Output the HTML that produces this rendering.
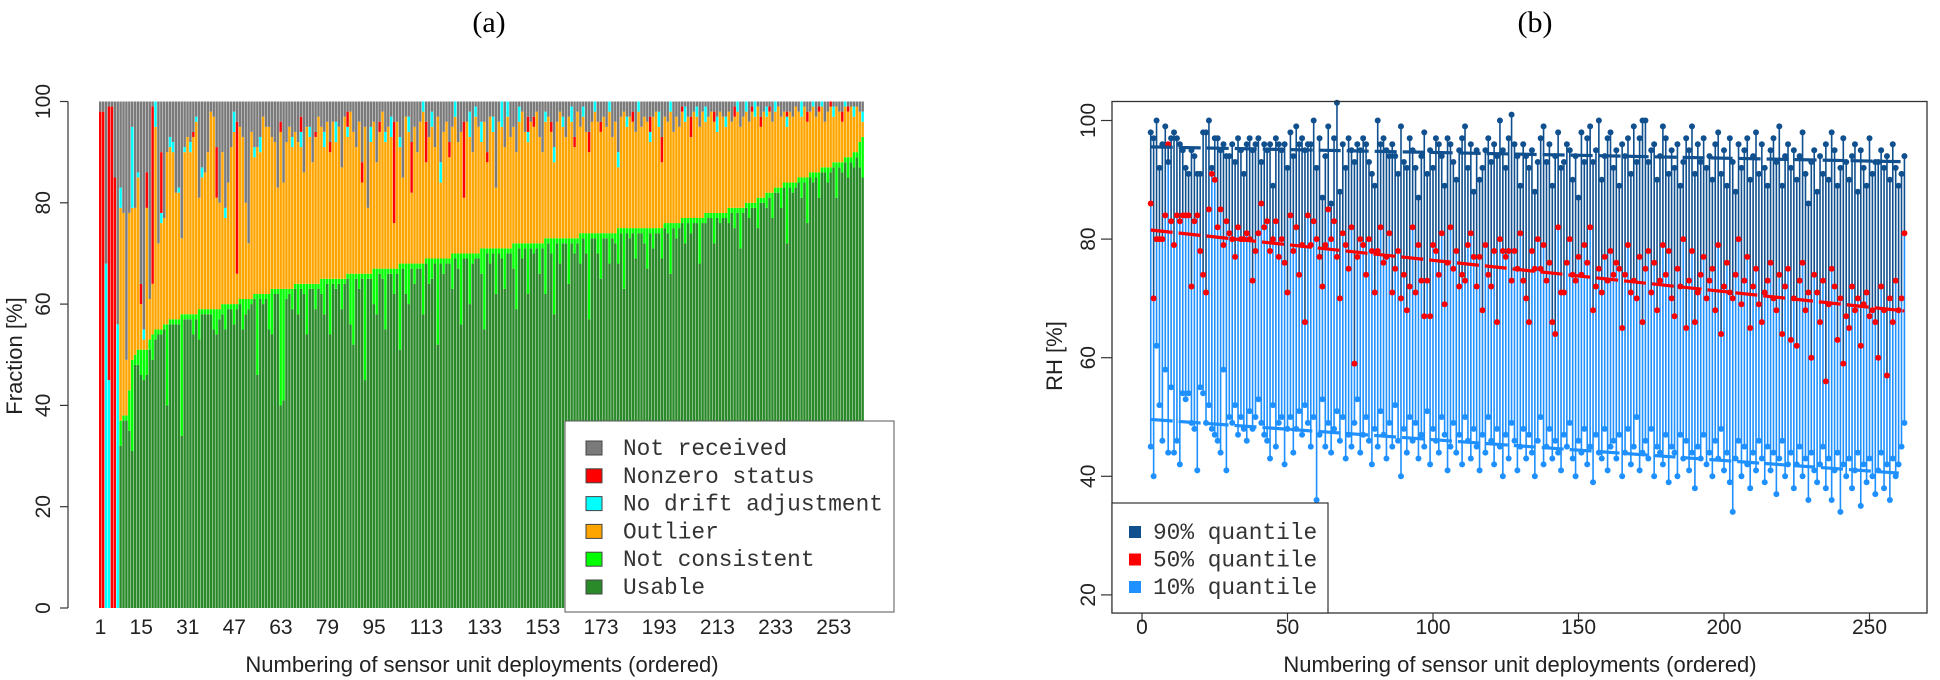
<!DOCTYPE html>
<html><head><meta charset="utf-8"><style>
html,body{margin:0;padding:0;background:#fff;}
svg{display:block;font-family:"Liberation Sans",sans-serif;}
.mono{font-family:"Liberation Mono",monospace;}
</style></head><body>
<svg id="chart" width="1940" height="680" viewBox="0 0 1940 680" xmlns="http://www.w3.org/2000/svg">
<g id="gA"></g>
<g id="gB"></g>
</svg>
<script>
// ---------- Panel (a) data: percent per deployment ----------
const barTicks=[1,15,31,47,63,79,95,113,133,153,173,193,213,233,253];
const fracTicks=[0,20,40,60,80,100];
const consTop=[0,0,0,0,0,0,0,
37,38,38,43,49,50,51,51,51,51,53,54,55,
55,55,56,56,57,57,57,57,58,58,
58,58,58,58,59,59,59,59,59,59,
59,59,60,60,60,60,60,60,61,61,
61,61,61,62,62,62,62,62,62,63,
63,63,63,63,63,63,63,64,64,64,
64,64,64,64,64,64,65,65,65,65,
65,65,65,65,65,66,66,66,66,66,
66,66,66,66,67,67,67,67,67,67,
67,67,67,68,68,68,68,68,68,68,
68,68,69,69,69,69,69,69,69,69,
69,70,70,70,70,70,70,70,70,70,
70,71,71,71,71,71,71,71,71,71,
71,71,72,72,72,72,72,72,72,72,
72,72,72,73,73,73,73,73,73,73,
73,73,73,73,73,74,74,74,74,74,
74,74,74,74,74,74,74,74,75,75,
75,75,75,75,75,75,75,75,75,75,
75,75,75,75,76,76,76,76,76,76,
77,77,77,77,77,77,77,77,78,78,
78,78,78,78,78,78,79,79,79,79,
79,79,80,80,80,80,81,81,81,82,
82,82,83,83,83,84,84,84,84,84,
85,85,85,85,86,86,86,86,87,87,
87,87,88,88,88,88,89,89,89,90,
90,92,93];
const notConsistent=[0,0,0,0,0,0,0,
5,1,1,8,18,2,3,5,6,5,2,5,2,
1,1,1,16,1,1,1,1,24,1,
1,1,4,1,6,1,1,1,1,4,
5,2,2,5,1,1,4,1,1,6,
3,2,1,1,16,1,2,1,7,9,
1,1,23,22,2,1,4,1,6,1,
2,10,1,1,5,1,3,7,1,11,
1,2,1,6,1,1,10,14,1,3,
1,21,1,1,7,9,1,2,12,1,
1,5,1,17,1,6,8,1,4,1,
1,10,1,5,4,1,17,1,3,1,
1,7,1,3,14,1,1,10,2,1,
1,5,16,1,3,1,9,1,2,8,
1,1,5,13,1,3,1,10,1,2,
1,6,1,11,1,3,15,1,5,1,
1,9,1,3,1,6,1,4,17,1,
1,4,9,1,1,6,1,2,7,1,
12,1,2,1,6,1,1,3,8,1,
4,1,1,6,1,2,10,1,3,1,
1,5,1,3,1,1,9,1,2,1,
1,6,1,2,1,1,3,1,4,1,
8,1,1,3,1,1,6,1,1,3,
1,5,1,1,4,1,12,1,2,1,
1,4,1,9,1,2,1,5,1,1,
3,1,1,7,1,2,1,4,1,3,
1,5,8];
const outlierTop=[0,0,0,0,0,0,0,
79,78,49,78,79,79,85,60,53,79,61,64,95,
72,76,77,90,91,90,82,82,73,90,
93,90,93,96,81,85,86,90,98,97,
81,80,90,77,84,91,94,66,95,93,
80,72,94,89,91,90,97,95,95,93,
92,83,94,84,92,95,91,94,92,91,
86,95,93,88,93,97,95,91,96,90,
96,92,95,87,97,93,98,94,91,96,
84,95,79,92,96,88,94,98,92,95,
93,76,96,91,85,97,94,82,95,90,
96,98,88,93,95,91,97,84,94,96,
89,95,97,92,94,81,96,93,90,97,
95,92,96,88,97,94,83,96,95,91,
97,93,95,90,96,98,94,92,96,95,
98,93,90,96,97,94,88,96,98,95,
93,97,96,91,98,95,97,94,90,96,
98,96,94,97,95,98,93,96,87,97,
98,95,97,96,94,98,95,97,96,92,
97,98,95,88,97,96,98,94,97,95,
98,96,97,93,98,97,95,98,96,97,
98,96,94,98,97,95,98,96,97,98,
95,97,98,96,98,97,99,95,98,97,
98,96,98,99,97,98,95,98,97,99,
98,97,99,96,98,99,97,98,99,96,
98,99,97,99,98,96,99,98,99,97,
99,98,96];
const noDrift=[0,0,68,45,0,0,56,4,0,0,
0,16,0,1,0,2,0,0,0,19,
0,2,0,0,2,2,0,1,0,1,
0,2,0,1,0,2,0,0,0,0,
0,0,0,2,0,0,4,0,0,0,
0,0,0,2,0,3,0,0,0,0,
0,0,0,0,0,0,2,0,0,3,
0,0,2,0,0,0,0,3,0,0,
0,4,0,0,0,2,0,0,0,0,
0,0,0,3,0,0,0,0,2,0,
4,0,0,2,0,0,3,0,0,0,
0,2,0,0,3,0,0,4,0,0,
0,0,3,0,0,0,0,5,0,2,
0,4,0,0,0,3,0,0,5,0,
4,0,0,0,3,0,0,2,0,0,
0,0,0,2,0,0,3,0,0,2,
0,0,3,0,0,0,2,0,0,0,
3,0,0,0,0,2,0,0,3,0,
0,2,0,0,0,3,0,0,0,2,
0,0,3,0,0,0,2,0,0,0,
0,3,0,0,0,2,0,0,3,0,
0,0,3,0,0,2,0,0,0,3,
0,0,2,0,0,3,0,0,0,2,
0,0,3,0,0,0,2,0,0,0,
0,3,0,0,0,2,0,0,3,0,
0,0,2,0,0,0,3,0,0,2,
0,0,2];
const nonzeroStatus=[98,98,0,54,99,85,0,0,0,0,
0,0,0,0,4,0,7,0,35,0,
0,12,0,0,0,0,0,0,0,0,
0,0,1,0,0,0,0,0,0,0,
10,0,0,0,0,0,0,30,0,0,
0,0,0,0,0,0,0,0,0,0,
0,0,2,0,0,0,0,0,0,3,
0,0,0,0,1,0,0,0,0,2,
0,0,0,0,0,3,0,0,0,0,
4,0,0,0,0,0,2,0,0,0,
0,20,0,0,0,0,0,10,0,0,
0,0,8,0,0,0,0,0,0,0,
3,0,0,0,0,15,0,0,0,0,
0,0,0,2,0,0,0,0,0,0,
0,0,0,0,0,0,0,3,0,2,
0,0,0,0,0,2,0,0,0,0,
0,0,0,2,0,0,0,0,4,0,
0,0,2,0,0,0,0,0,0,0,
0,0,0,2,0,0,0,0,0,3,
0,0,0,5,0,0,0,0,0,0,
1,0,0,4,0,0,0,0,0,0,
0,2,0,0,0,0,0,0,2,0,
0,0,0,0,1,0,0,2,0,0,
1,0,0,0,0,0,1,0,0,0,
0,1,0,2,0,0,0,1,0,0,
0,1,0,0,0,2,0,1,0,0,
0,0,0];
const legendA=["Not received","Nonzero status","No drift adjustment","Outlier","Not consistent","Usable"];

// ---------- Panel (b) data: RH quantiles per deployment (x = 3..262) ----------
const rhTicks=[20,40,60,80,100];
const depTicks=[0,50,100,150,200,250];
const q90=[98,97,100,92,96,99,93,97,98,97,
96,95,92,91,95,94,91,91,98,98,
100,92,97,97,95,96,94,94,96,93,
97,95,91,96,97,95,96,97,93,96,
95,96,89,97,96,95,96,92,98,94,
99,96,97,95,96,96,100,92,97,87,
94,99,86,97,103,88,96,92,97,95,
93,96,95,97,96,93,91,89,100,96,
97,95,94,96,94,91,99,93,92,97,
95,92,87,94,98,91,95,92,97,96,
94,89,97,96,93,90,95,97,99,92,
96,88,95,90,92,95,97,93,96,94,
100,95,92,97,101,96,94,89,96,94,
92,95,88,93,97,99,93,96,89,94,
98,92,93,96,95,90,94,87,98,93,
97,99,93,95,100,90,94,97,98,92,
95,89,96,94,97,91,99,93,97,100,
100,93,95,96,90,94,99,97,91,95,
92,96,89,93,97,95,99,91,96,93,
97,92,94,90,96,98,91,95,89,97,
93,88,96,92,95,97,90,94,98,91,
96,92,89,95,97,93,99,89,94,96,
92,95,90,94,98,91,86,93,95,88,
94,91,96,90,98,95,89,92,97,93,
90,94,96,88,95,92,89,97,91,93,
93,95,92,94,90,96,92,89,91,94];
const q50=[86,70,80,80,80,84,96,83,79,84,
83,84,84,84,72,83,84,78,74,71,
85,91,90,82,85,79,83,81,80,77,
82,80,80,81,80,73,78,81,86,82,
83,78,80,83,77,80,76,71,84,78,
82,74,79,66,84,79,83,80,77,72,
79,85,80,83,77,70,81,79,75,82,
59,77,80,79,74,80,78,71,78,82,
76,77,81,71,75,78,70,74,68,72,
82,71,79,73,67,73,67,79,78,74,
81,69,76,82,75,78,72,74,73,79,
81,77,72,77,68,79,74,72,78,66,
80,78,77,78,73,78,75,81,73,70,
66,78,75,80,75,79,73,76,66,64,
82,71,71,76,80,74,73,77,74,79,
76,82,68,72,75,71,77,73,78,74,
76,75,65,74,79,71,73,70,77,66,
75,78,71,76,68,73,79,74,78,70,
67,75,72,80,65,73,78,66,71,74,
77,70,73,75,68,79,64,72,76,71,
70,74,80,69,73,77,65,72,75,69,
66,71,73,76,70,68,74,64,72,75,
63,70,62,73,76,68,71,60,74,71,
66,73,56,69,75,72,63,70,59,67,
65,72,68,70,62,69,71,67,68,66,
60,72,68,57,70,66,73,68,70,81];
const q10=[45,40,62,52,46,58,44,55,44,46,
42,54,53,54,49,48,41,55,54,49,
52,48,47,46,44,58,41,50,49,52,
47,50,48,46,51,48,50,53,49,47,
46,43,52,45,49,50,42,48,50,44,
48,51,47,52,49,45,50,36,47,53,
45,49,44,48,51,46,50,43,47,45,
49,53,44,47,50,46,42,48,45,51,
47,43,49,45,52,46,40,48,44,50,
46,49,43,47,45,51,42,48,46,44,
50,47,41,45,49,44,47,42,50,46,
43,48,45,41,47,44,50,46,42,48,
45,40,47,43,49,46,41,45,48,43,
47,44,40,46,50,42,45,48,43,46,
44,41,47,45,49,43,40,46,44,48,
42,45,39,47,44,43,48,41,45,46,
43,47,40,44,48,42,45,50,41,44,
46,43,48,40,45,44,42,47,39,45,
44,40,47,43,46,41,44,38,45,43,
47,42,44,40,46,43,48,41,44,39,
34,43,46,40,45,42,38,44,41,46,
43,39,45,41,44,37,43,46,40,42,
44,38,42,45,40,43,36,44,41,39,
42,45,38,43,36,41,44,34,42,40,
43,38,41,44,35,42,39,43,40,37,
41,44,38,42,36,43,40,42,45,49];
const firstDeployment=3;
const legendB=["90% quantile","50% quantile","10% quantile"];

const NS="http://www.w3.org/2000/svg";
function mk(parent,tag,attrs,text){const e=document.createElementNS(NS,tag);for(const k in attrs)e.setAttribute(k,attrs[k]);if(text!==undefined)e.textContent=text;parent.appendChild(e);return e;}

// ---------- Panel (a) ----------
const gA=document.getElementById('gA');
const barX0=99, barStep=2.91;
const yA=v=>608-v*5.065;
const xA=i=>barX0+i*barStep;
const tA=mk(gA,'text',{x:489,y:32,'text-anchor':'middle','font-size':30,'font-family':'Liberation Serif, serif'},'(a)');


const bars=mk(gA,'g',{});


const cols={usable:'#2a8a2a',notcons:'#00ff00',outlier:'#ffa500',drift:'#00ffff',nonzero:'#ff0000',notrec:'#7a7a7a'};
for(let i=0;i<consTop.length;i++){
  const c=consTop[i]||0, nc=notConsistent[i]||0, o=Math.max(outlierTop[i]||0,c);
  const d=noDrift[i]||0, nz=nonzeroStatus[i]||0;
  const segs=[['usable',0,c-nc],['notcons',c-nc,c],['outlier',c,o],['drift',o,Math.min(100,o+d)],['nonzero',Math.min(100,o+d),Math.min(100,o+d+nz)],['notrec',Math.min(100,o+d+nz),100]];
  const bg=mk(bars,'g',{});
  
  
  for(const s of segs){ if(s[2]-s[1]<=0) continue;
    const r=mk(bg,'rect',{x:xA(i).toFixed(2),y:yA(s[2]).toFixed(2),width:(barStep-0.45).toFixed(2),height:(yA(s[1])-yA(s[2])).toFixed(2),fill:cols[s[0]]});
    
    
  }
}
const axA=mk(gA,'g',{stroke:'#333','stroke-width':1.2});


mk(axA,'line',{x1:68,x2:68,y1:yA(0),y2:yA(100)});
for(const t of fracTicks){
  mk(axA,'line',{x1:60,x2:68,y1:yA(t),y2:yA(t)});
  const lb=mk(gA,'text',{x:0,y:0,transform:`translate(50,${yA(t)}) rotate(-90)`,'text-anchor':'middle','font-size':21,fill:'#222'},String(t));
  
  
}
for(const t of barTicks){
  const lb=mk(gA,'text',{x:(xA(t-1)+barStep/2).toFixed(1),y:634,'text-anchor':'middle','font-size':21,fill:'#222'},String(t));
  
  
}
const yla=mk(gA,'text',{transform:'translate(22,356) rotate(-90)','text-anchor':'middle','font-size':22,fill:'#222'},'Fraction [%]');


const xla=mk(gA,'text',{x:482,y:672,'text-anchor':'middle','font-size':22,fill:'#222'},'Numbering of sensor unit deployments (ordered)');


const legA=mk(gA,'g',{});


mk(legA,'rect',{x:565,y:421,width:329,height:191,fill:'#fff',stroke:'#555','stroke-width':1});
const legCols=[cols.notrec,cols.nonzero,cols.drift,cols.outlier,cols.notcons,cols.usable];
legendA.forEach((name,k)=>{
  const y=448+k*27.8;
  const e=mk(legA,'g',{});
  
  
  mk(e,'rect',{x:586,y:y-7,width:16,height:14,fill:legCols[k],stroke:'#444','stroke-width':1});
  mk(e,'text',{x:623,y:y+7,'font-size':22.8,fill:'#333',class:'mono'},name);
});

// ---------- Panel (b) ----------
const gB=document.getElementById('gB');
const xB=x=>1142+x*2.91;
const yB=v=>120.5+(100-v)*5.93;
const tB=mk(gB,'text',{x:1535,y:32,'text-anchor':'middle','font-size':30,'font-family':'Liberation Serif, serif'},'(b)');


const DARK='#11508f', LIGHT='#1e90ff', RED='#ff0000';
const stemsL=mk(gB,'g',{stroke:LIGHT,'stroke-width':1.6});


const stemsD=mk(gB,'g',{stroke:DARK,'stroke-width':1.6});


const ptsL=mk(gB,'g',{fill:LIGHT});


const ptsD=mk(gB,'g',{fill:DARK});


const ptsR=mk(gB,'g',{fill:RED});


for(let i=0;i<q50.length;i++){
  const x=xB(firstDeployment+i).toFixed(2);
  mk(stemsL,'line',{x1:x,x2:x,y1:yB(q10[i]).toFixed(1),y2:yB(q50[i]).toFixed(1)});
  mk(stemsD,'line',{x1:x,x2:x,y1:yB(q90[i]).toFixed(1),y2:yB(q50[i]).toFixed(1)});
  mk(ptsL,'circle',{cx:x,cy:yB(q10[i]).toFixed(1),r:3});
  mk(ptsD,'circle',{cx:x,cy:yB(q90[i]).toFixed(1),r:3});
  mk(ptsR,'circle',{cx:x,cy:yB(q50[i]).toFixed(1),r:3});
}
function fit(arr){const n=arr.length;let sx=0,sy=0,sxx=0,sxy=0;arr.forEach((v,i)=>{const x=firstDeployment+i;sx+=x;sy+=v;sxx+=x*x;sxy+=x*v;});const b=(n*sxy-sx*sy)/(n*sxx-sx*sx);return [(sy-b*sx)/n,b];}
[[q90,DARK,'trend-90'],[q50,RED,'trend-50'],[q10,LIGHT,'trend-10']].forEach(([arr,col,nm])=>{
  const [a,b]=fit(arr);const x0=firstDeployment,x1=firstDeployment+arr.length-1;
  const l=mk(gB,'line',{x1:xB(x0),y1:yB(a+b*x0),x2:xB(x1),y2:yB(a+b*x1),stroke:col,'stroke-width':3.2,'stroke-dasharray':'22 6'});
  
  
});
const box=mk(gB,'rect',{x:1112,y:101.5,width:815,height:511.5,fill:'none',stroke:'#333','stroke-width':1.3});


const axB=mk(gB,'g',{stroke:'#333','stroke-width':1.2});


for(const t of rhTicks){
  mk(axB,'line',{x1:1101,x2:1112,y1:yB(t),y2:yB(t)});
  const lb=mk(gB,'text',{transform:`translate(1095,${yB(t)}) rotate(-90)`,'text-anchor':'middle','font-size':21,fill:'#222'},String(t));
  
  
}
for(const t of depTicks){
  mk(axB,'line',{x1:xB(t),x2:xB(t),y1:613,y2:622});
  const lb=mk(gB,'text',{x:xB(t),y:634,'text-anchor':'middle','font-size':21,fill:'#222'},String(t));
  
  
}
const ylb=mk(gB,'text',{transform:'translate(1062,356) rotate(-90)','text-anchor':'middle','font-size':22,fill:'#222'},'RH [%]');


const xlb=mk(gB,'text',{x:1520,y:672,'text-anchor':'middle','font-size':22,fill:'#222'},'Numbering of sensor unit deployments (ordered)');


const legB=mk(gB,'g',{});


mk(legB,'rect',{x:1112,y:503,width:216,height:110,fill:'#fff',stroke:'#333','stroke-width':1.2});
[DARK,RED,LIGHT].forEach((c,k)=>{
  const y=532+k*27.5;
  const e=mk(legB,'g',{});
  
  
  mk(e,'rect',{x:1129,y:y-6,width:12,height:12,fill:c});
  mk(e,'text',{x:1153,y:y+7,'font-size':22.8,fill:'#333',class:'mono'},legendB[k]);
});
</script>
</body></html>
